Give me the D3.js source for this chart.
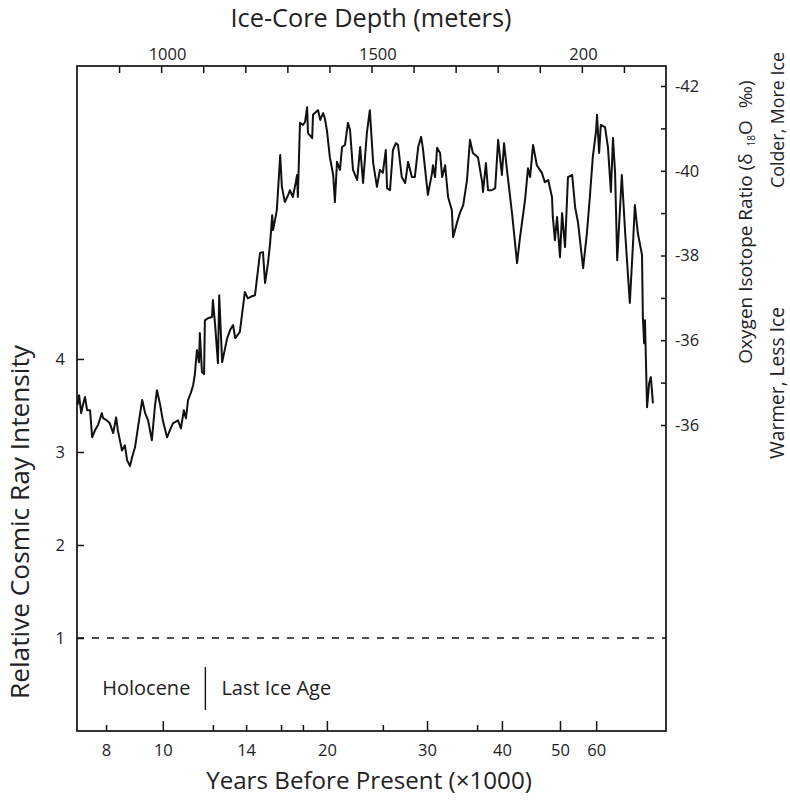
<!DOCTYPE html>
<html>
<head>
<meta charset="utf-8">
<script src="https://cdn.jsdelivr.net/npm/d3@7"></script>
<style>
  body { margin: 0; background: #fff; }
  svg { display: block; }
  text { font-family: "Open Sans", Lato, sans-serif; fill: #222; }
</style>
</head>
<body>
<svg id="chart" width="790" height="807"></svg>
<script>
// Ice-core record: sample depth (m) and oxygen isotope ratio δ18O (‰)
const coreDepth = [
  801, 805, 810, 814, 819, 824, 831, 836, 843, 850, 859, 862, 871, 878, 886, 893, 897, 907, 914, 919,
  926, 931, 938, 945, 955, 962, 969, 978, 985, 990, 997, 1004, 1014, 1021, 1028, 1040, 1047, 1054, 1059, 1064,
  1071, 1076, 1080, 1085, 1090, 1092, 1097, 1102, 1104, 1111, 1121, 1123, 1128, 1135, 1138, 1145, 1157, 1164, 1171, 1176,
  1187, 1199, 1206, 1216, 1223, 1228, 1235, 1242, 1247, 1254, 1259, 1264, 1266, 1275, 1283, 1287, 1294, 1302, 1306, 1313,
  1321, 1323, 1325, 1330, 1337, 1342, 1347, 1349, 1359, 1361, 1368, 1373, 1378, 1385, 1389, 1394, 1401, 1409, 1413, 1418,
  1425, 1430, 1437, 1444, 1449, 1456, 1466, 1473, 1480, 1489, 1496, 1504, 1513, 1520, 1527, 1534, 1537, 1544, 1551, 1558,
  1563, 1572, 1580, 1587, 1596, 1603, 1611, 1618, 1622, 1634, 1644, 1646, 1651, 1656, 1663, 1668, 1675, 1682, 1691, 1694,
  1703, 1710, 1718, 1727, 1734, 1741, 1753, 1763, 1765, 1772, 1777, 1786, 1794, 1801, 1810, 1815, 1822, 1834, 1846, 1853,
  1865, 1872, 1877, 1884, 1893, 1905, 1912, 1920, 1929, 1931, 1936, 1941, 1948, 1953, 1960, 1967, 1977, 1984, 1991, 2003,
  2012, 2019, 2026, 2034, 2036, 2041, 2045, 2055, 2062, 2069, 2074, 2079, 2084, 2095, 2103, 2114, 2122, 2126, 2133, 2143,
  2145, 2148, 2150, 2155, 2160, 2164, 2169
];
const coreD18O = [
  -34.47, -34.70, -34.28, -34.47, -34.66, -34.35, -34.35, -33.71, -33.88, -34.00, -34.28, -34.16, -34.11, -34.04, -33.81, -34.18, -33.88, -33.40, -33.52, -33.17,
  -33.03, -33.24, -33.48, -33.95, -34.59, -34.28, -34.11, -33.64, -34.42, -34.82, -34.51, -34.11, -33.71, -33.88, -34.04, -34.11, -33.92, -34.35, -34.16, -34.59,
  -34.77, -34.94, -35.18, -35.77, -35.48, -36.17, -35.25, -35.20, -36.47, -36.52, -36.55, -36.95, -36.40, -35.46, -37.06, -35.48, -36.05, -36.24, -36.36, -36.05,
  -36.19, -37.14, -36.99, -37.04, -37.06, -37.47, -38.06, -38.08, -37.35, -37.82, -38.29, -38.95, -38.60, -39.07, -40.37, -39.62, -39.26, -39.43, -39.54, -39.38,
  -39.78, -39.90, -39.38, -41.13, -41.08, -41.15, -41.50, -40.89, -40.77, -41.32, -41.39, -41.43, -41.20, -41.36, -41.24, -40.96, -40.32, -39.90, -39.26, -40.21,
  -40.02, -40.56, -40.61, -41.13, -40.96, -40.02, -39.78, -40.56, -39.71, -40.89, -41.43, -40.18, -39.62, -40.02, -39.95, -40.49, -39.59, -39.54, -40.49, -40.65,
  -40.61, -39.85, -39.71, -40.21, -39.85, -39.85, -40.56, -40.80, -40.54, -39.43, -39.95, -40.13, -39.85, -40.54, -40.42, -39.85, -40.13, -39.38, -39.07, -38.43,
  -38.77, -39.00, -39.19, -39.78, -40.73, -40.42, -40.32, -39.73, -39.50, -40.18, -39.54, -39.54, -39.59, -40.73, -39.90, -40.65, -40.02, -39.00, -37.82, -38.43,
  -39.31, -40.06, -39.85, -40.61, -40.13, -39.95, -39.73, -39.78, -39.38, -38.91, -38.36, -38.91, -37.96, -39.00, -38.20, -39.85, -39.90, -39.14, -38.77, -37.70,
  -38.53, -39.38, -40.32, -40.96, -41.32, -40.42, -41.08, -41.03, -40.56, -39.50, -40.77, -39.95, -37.89, -39.90, -38.53, -36.88, -38.36, -39.19, -38.53, -38.01,
  -36.55, -35.93, -36.47, -34.42, -34.99, -35.13, -34.51
];

// Age model: ages (thousand years before present) at core depths (m)
const ageTicks = [8, 10, 12, 14, 16, 18, 20, 25, 30, 35, 40, 50, 60];
const ageTickDepths = [869, 1004, 1123, 1202, 1285, 1337, 1394, 1527, 1632, 1751, 1810, 1948, 2034];
const ageLabels = [8, 10, 14, 20, 30, 40, 50, 60];
const ageMajor = [10, 20, 30, 40, 50, 60];
const holoceneStartAge = 11.7;

// Depth axis (top)
const depthTicks = [900, 1000, 1100, 1200, 1300, 1400, 1500, 1600, 1700, 1800, 1900, 2000, 2100];
const depthLabelValues = [1000, 1500, 2000];
const depthLabelTexts = ["1000", "1500", "200"];

// Isotope axis (right)
const isotopeTicks = [-42, -41, -40, -39, -38, -37, -36, -35, -34];
const isotopeLabelValues = [-42, -40, -38, -36, -34];
const isotopeLabelTexts = ["-42", "-40", "-38", "-36", "-36"];

// Cosmic ray axis (left)
const cosmicTicks = [1, 2, 3, 4];
const cosmicReference = 1;

const svg = d3.select("#chart");
const frame = { left: 77, right: 666, top: 66, bottom: 731 };

const depthScale = d3.scaleLinear().domain([800, 2200]).range([frame.left, frame.right]);
const ageScale = d3.scaleLinear().domain(ageTicks).range(ageTickDepths.map(depthScale));
const cosmicScale = d3.scaleLinear().domain([0, 7.15]).range([frame.bottom, frame.top]);
const isoScale = d3.scaleLinear().domain([-42, -34]).range([86, 425]);

// Scale a text's font size so that it spans the given length
function fitLength(sel, length) {
  const size = parseFloat(sel.attr("font-size"));
  const now = sel.node().getComputedTextLength();
  sel.attr("font-size", (size * length / now).toFixed(2));
  return sel;
}

// Plot frame
svg.append("rect")
  .attr("x", frame.left).attr("y", frame.top)
  .attr("width", frame.right - frame.left).attr("height", frame.bottom - frame.top)
  .attr("fill", "none").attr("stroke", "#111").attr("stroke-width", 1.7);

const tickFont = 16.5;

// Top axis: depth
const topAxis = svg.append("g")
  .attr("transform", `translate(0,${frame.top})`)
  .call(d3.axisTop(depthScale).tickValues(depthTicks).tickSize(-7).tickPadding(6)
    .tickFormat(d => {
      const i = depthLabelValues.indexOf(d);
      return i >= 0 ? depthLabelTexts[i] : "";
    }));
topAxis.selectAll(".tick text").attr("text-anchor", "start").attr("dx", -13);

// Bottom axis: age
const bottomAxis = svg.append("g")
  .attr("transform", `translate(0,${frame.bottom})`)
  .call(d3.axisBottom(ageScale).tickValues(ageTicks).tickSize(-6).tickPadding(13)
    .tickFormat(d => ageLabels.includes(d) ? d : ""));
bottomAxis.selectAll(".tick line").attr("y2", d => ageMajor.includes(d) ? -10 : -6);

// Left axis: cosmic ray intensity
const leftAxis = svg.append("g")
  .attr("transform", `translate(${frame.left},0)`)
  .call(d3.axisLeft(cosmicScale).tickValues(cosmicTicks).tickSize(-7).tickPadding(12));

// Right axis: oxygen isotope ratio
const rightAxis = svg.append("g")
  .attr("transform", `translate(${frame.right},0)`)
  .call(d3.axisRight(isoScale).tickValues(isotopeTicks).tickSize(-5).tickPadding(9)
    .tickFormat(d => {
      const i = isotopeLabelValues.indexOf(d);
      return i >= 0 ? isotopeLabelTexts[i] : "";
    }));

[topAxis, bottomAxis, leftAxis, rightAxis].forEach(g => {
  g.select(".domain").remove();
  g.selectAll(".tick line").attr("stroke", "#111").attr("stroke-width", 1.5);
  g.selectAll(".tick text").attr("font-size", tickFont)
    .attr("font-family", "'Open Sans', sans-serif").attr("fill", "#222");
});

// Reference level for cosmic ray intensity
svg.append("line")
  .attr("x1", frame.left).attr("x2", frame.right)
  .attr("y1", cosmicScale(cosmicReference)).attr("y2", cosmicScale(cosmicReference))
  .attr("stroke", "#111").attr("stroke-width", 1.4).attr("stroke-dasharray", "7,8");

// Isotope record
const record = coreDepth.map((d, i) => ({ depth: d, d18o: coreD18O[i] }));
svg.append("path")
  .datum(record)
  .attr("fill", "none").attr("stroke", "#111").attr("stroke-width", 2)
  .attr("stroke-linejoin", "round")
  .attr("d", d3.line().x(d => depthScale(d.depth)).y(d => isoScale(d.d18o)));

// Holocene / Last Ice Age boundary
const bx = ageScale(holoceneStartAge);
svg.append("line")
  .attr("x1", bx).attr("x2", bx).attr("y1", 667).attr("y2", 710)
  .attr("stroke", "#111").attr("stroke-width", 1.4);
svg.append("text").attr("x", bx - 15).attr("y", 695).attr("text-anchor", "end")
  .attr("font-size", 20).text("Holocene");
svg.append("text").attr("x", bx + 16).attr("y", 695).attr("text-anchor", "start")
  .attr("font-size", 20).text("Last Ice Age");

// Axis titles
fitLength(svg.append("text").attr("x", 371).attr("y", 27).attr("text-anchor", "middle")
  .attr("font-size", 22).text("Ice-Core Depth (meters)"), 281);
fitLength(svg.append("text").attr("x", 369).attr("y", 789).attr("text-anchor", "middle")
  .attr("font-size", 22).text("Years Before Present (×1000)"), 326);
fitLength(svg.append("text").attr("transform", "translate(29,522) rotate(-90)").attr("text-anchor", "middle")
  .attr("font-size", 22).text("Relative Cosmic Ray Intensity"), 354);

const isoTitle = svg.append("text").attr("transform", "translate(752,222) rotate(-90)")
  .attr("text-anchor", "middle").attr("font-size", 19);
isoTitle.append("tspan").text("Oxygen Isotope Ratio (δ");
isoTitle.append("tspan").attr("font-size", 10).attr("dx", 7).attr("dy", 3).text("18");
isoTitle.append("tspan").attr("dy", -3).text("O");
isoTitle.append("tspan").attr("dx", 12).text("‰)");

fitLength(svg.append("text").attr("transform", "translate(784,120) rotate(-90)").attr("text-anchor", "middle")
  .attr("font-size", 18).text("Colder, More Ice"), 136);
fitLength(svg.append("text").attr("transform", "translate(784,383) rotate(-90)").attr("text-anchor", "middle")
  .attr("font-size", 18).text("Warmer, Less Ice"), 152);
</script>
</body>
</html>
